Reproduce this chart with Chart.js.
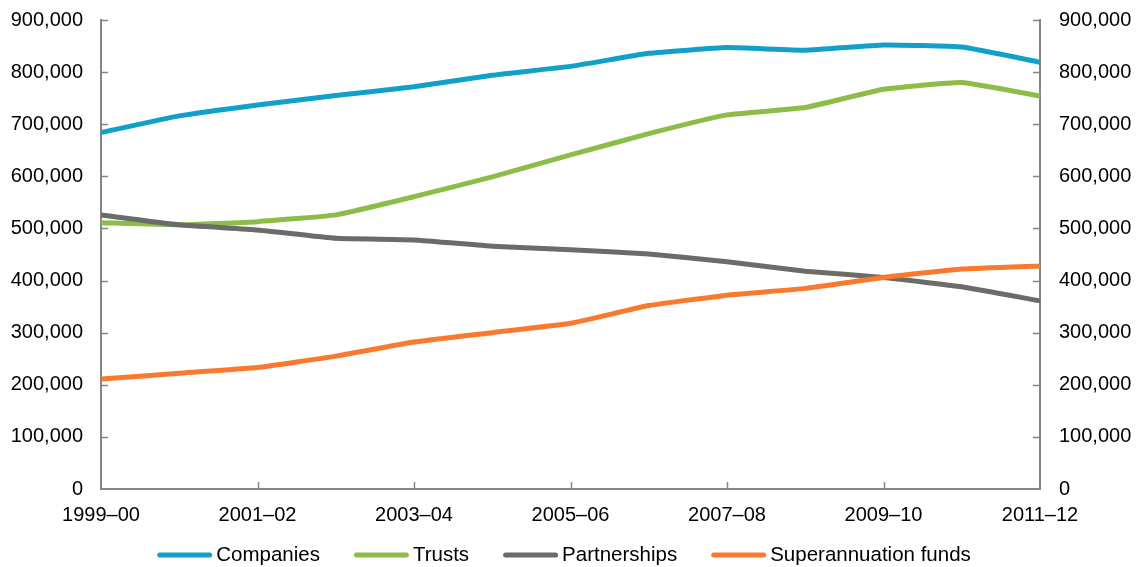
<!DOCTYPE html>
<html>
<head>
<meta charset="utf-8">
<script src="https://cdn.jsdelivr.net/npm/chart.js@4/dist/chart.umd.min.js"></script>
<style>
  html, body { margin: 0; padding: 0; background: #ffffff; }
  #wrap { width: 1142px; height: 567px; }
</style>
</head>
<body>
<div id="wrap"><canvas id="c" width="1142" height="567"></canvas></div>
<script>
// Financial years on the category axis
const years = ['1999–00', '2000–01', '2001–02', '2002–03', '2003–04', '2004–05', '2005–06',
               '2006–07', '2007–08', '2008–09', '2009–10', '2010–11', '2011–12'];

// Number of entities by type
const companies    = [684000, 716000, 737000, 755000, 772000, 794000, 811000, 836000, 847000, 842000, 852000, 848000, 819000];
const trusts       = [511000, 507000, 513000, 526000, 561000, 599000, 641000, 682000, 718000, 732000, 767000, 780000, 754000];
const partnerships = [526000, 507000, 497000, 481000, 478000, 466000, 459000, 451000, 436000, 418000, 406000, 388000, 361000];
const superFunds   = [211000, 222000, 233000, 255000, 282000, 300000, 318000, 352000, 372000, 385000, 406000, 422000, 428000];

// Value axis ticks (both sides)
const yTicks = [0, 100000, 200000, 300000, 400000, 500000, 600000, 700000, 800000, 900000];

const FONT = '"Liberation Sans", Arial, sans-serif';
const AXIS = '#858585';
const fmt = v => Number(v).toLocaleString('en-US');

// Short tick marks that point into the plot area
const innerTicks = {
  id: 'innerTicks',
  beforeDatasetsDraw(chart) {
    const { ctx, chartArea: a, scales } = chart;
    ctx.save();
    ctx.strokeStyle = AXIS;
    ctx.lineWidth = 1.5;
    const seg = (x1, y1, x2, y2) => { ctx.beginPath(); ctx.moveTo(x1, y1); ctx.lineTo(x2, y2); ctx.stroke(); };
    yTicks.forEach(v => {
      const y = Math.round(scales.y.getPixelForValue(v)) + 0.5;
      if (v > 0) {
        seg(a.left, y, a.left + 7, y);
        seg(a.right - 7, y, a.right, y);
      }
    });
    years.forEach((_, i) => {
      if (i % 2 === 0 && i > 0 && i < years.length - 1) {
        const x = Math.round(scales.x.getPixelForValue(i)) + 0.5;
        seg(x, a.bottom, x, a.bottom - 7);
      }
    });
    ctx.restore();
  }
};

// Legend row under the x axis: line sample followed by its label
const lineLegend = {
  id: 'lineLegend',
  afterDraw(chart) {
    const ctx = chart.ctx;
    const sets = chart.data.datasets;
    const sample = 55, gap = 4, spacing = 34, y = 555, centre = 564;
    ctx.save();
    ctx.font = '20.5px ' + FONT;
    const widths = sets.map(d => ctx.measureText(d.label).width);
    const total = widths.reduce((s, w) => s + sample + gap + w, 0) + spacing * (sets.length - 1);
    let x = centre - total / 2;
    sets.forEach((d, i) => {
      ctx.strokeStyle = d.borderColor;
      ctx.lineWidth = 5;
      ctx.lineCap = 'round';
      ctx.beginPath();
      ctx.moveTo(x + 2.5, y);
      ctx.lineTo(x + sample - 2.5, y);
      ctx.stroke();
      x += sample + gap;
      ctx.fillStyle = '#000000';
      ctx.textAlign = 'left';
      ctx.textBaseline = 'middle';
      ctx.fillText(d.label, x, y);
      x += widths[i] + spacing;
    });
    ctx.restore();
  }
};

const lineStyle = (label, data, color, order) => ({
  label, data, order,
  borderColor: color,
  backgroundColor: color,
  borderWidth: 5,
  pointRadius: 0,
  pointHoverRadius: 0,
  tension: 0.12,
  fill: false,
  borderJoinStyle: 'round'
});

const axisTicks = pad => ({
  padding: pad,
  color: '#000000',
  font: { family: FONT, size: 20 },
  callback: v => fmt(v)
});

// Fixed scale sizes so the plot area sits at a set place on the canvas
const fixVertical = w => s => { s.width = w; s.paddingTop = 0; s.paddingBottom = 0; };

new Chart(document.getElementById('c'), {
  type: 'line',
  data: {
    labels: years,
    datasets: [
      lineStyle('Companies', companies, '#11a0c9', 3),
      lineStyle('Trusts', trusts, '#8cbd48', 2),
      lineStyle('Partnerships', partnerships, '#6b6b68', 1),
      lineStyle('Superannuation funds', superFunds, '#f97a2e', 0)
    ]
  },
  options: {
    responsive: false,
    animation: false,
    layout: { padding: { top: 20, left: 0, right: 0, bottom: 0 } },
    plugins: { legend: { display: false }, tooltip: { enabled: false } },
    scales: {
      x: {
        offset: false,
        grid: { display: true, drawOnChartArea: false, drawTicks: false },
        border: { display: true, color: AXIS, width: 2 },
        ticks: {
          padding: 14,
          autoSkip: false,
          maxRotation: 0,
          color: '#000000',
          font: { family: FONT, size: 20 },
          callback: (v, i) => (i % 2 === 0 ? years[i] : '')
        },
        afterFit: s => { s.height = 78; s.paddingLeft = 0; s.paddingRight = 0; }
      },
      y: {
        position: 'left',
        min: 0, max: 900000,
        afterBuildTicks: s => { s.ticks = yTicks.map(v => ({ value: v })); },
        grid: { display: true, drawOnChartArea: false, drawTicks: false },
        border: { display: true, color: AXIS, width: 2 },
        ticks: axisTicks(18),
        afterFit: fixVertical(101)
      },
      y2: {
        position: 'right',
        min: 0, max: 900000,
        afterBuildTicks: s => { s.ticks = yTicks.map(v => ({ value: v })); },
        grid: { display: true, drawOnChartArea: false, drawTicks: false },
        border: { display: true, color: AXIS, width: 2 },
        ticks: axisTicks(19),
        afterFit: fixVertical(102)
      }
    }
  },
  plugins: [innerTicks, lineLegend]
});
</script>
</body>
</html>
